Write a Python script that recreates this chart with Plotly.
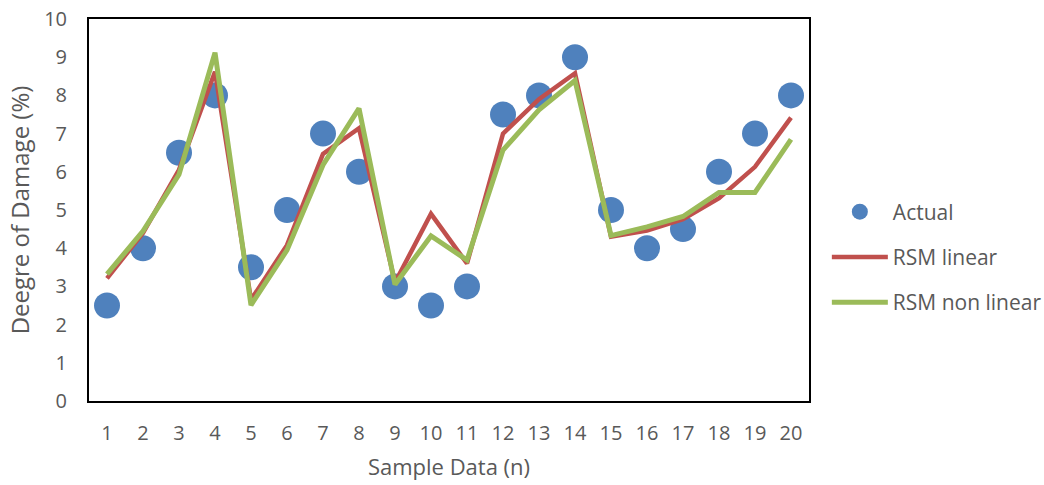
import plotly.graph_objects as go

samples = list(range(1, 21))
actual = [2.5, 4, 6.5, 8, 3.5, 5, 7, 6, 3, 2.5, 3, 7.5, 8, 9, 5, 4, 4.5, 6, 7, 8]
rsm_linear = [3.21, 4.4, 6.05, 8.62, 2.65, 4.08, 6.47, 7.14, 3.1, 4.9, 3.6, 7.0,
              7.9, 8.58, 4.3, 4.46, 4.76, 5.31, 6.13, 7.42]
rsm_nonlinear = [3.32, 4.45, 5.93, 9.12, 2.51, 3.95, 6.18, 7.66, 3.05, 4.32, 3.69, 6.57,
                 7.62, 8.39, 4.33, 4.56, 4.83, 5.46, 5.46, 6.85]

text_color = "#595959"
font_family = "Open Sans, Noto Sans, sans-serif"

fig = go.Figure()
fig.add_trace(go.Scatter(
    x=samples, y=actual, name="Actual", mode="markers",
    marker=dict(color="#4F81BD", size=26, line=dict(width=0)),
    legendgroup="a",
))
fig.add_trace(go.Scatter(
    x=samples, y=rsm_linear, name="RSM linear", mode="lines",
    line=dict(color="#C0504D", width=4.5),
    legendgroup="b",
))
fig.add_trace(go.Scatter(
    x=samples, y=rsm_nonlinear, name="RSM non linear", mode="lines",
    line=dict(color="#9BBB59", width=5),
    legendgroup="c",
))

fig.update_layout(
    width=1044, height=485,
    margin=dict(l=89, r=235, t=19, b=84),
    paper_bgcolor="white", plot_bgcolor="white",
    font=dict(family=font_family, size=20, color=text_color),
    legend=dict(
        xref="container", yref="container",
        x=0.792, y=(485 - 257) / 485, xanchor="left", yanchor="middle",
        font=dict(size=21, color=text_color),
        tracegroupgap=15, itemwidth=56,
        bgcolor="rgba(0,0,0,0)",
    ),
    xaxis=dict(
        range=[0.5, 20.5], tickmode="array", tickvals=samples,
        ticktext=[str(s) for s in samples],
        showgrid=False, zeroline=False, automargin=False,
        showline=True, linecolor="black", linewidth=2, mirror=True,
        ticks="outside", ticklen=13, tickcolor="rgba(0,0,0,0)",
        tickfont=dict(size=20, color=text_color),
        title=dict(text="Sample Data (n)", font=dict(size=22, color=text_color), standoff=15),
    ),
    yaxis=dict(
        range=[0, 10], tickmode="array", tickvals=list(range(0, 11)),
        showgrid=False, zeroline=False, automargin=False,
        showline=True, linecolor="black", linewidth=2, mirror=True,
        ticks="outside", ticklen=16, tickcolor="rgba(0,0,0,0)",
        tickfont=dict(size=20, color=text_color),
        title=dict(text="Deegre of Damage (%)", font=dict(size=24, color=text_color), standoff=8),
    ),
)

fig.write_html("out.html")
